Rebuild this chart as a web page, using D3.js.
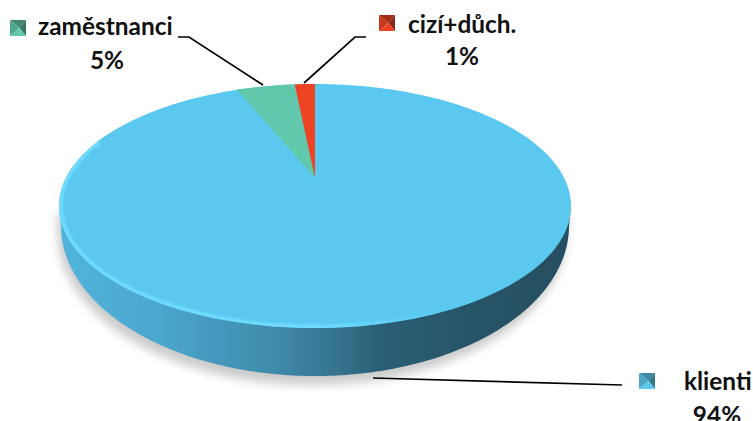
<!DOCTYPE html>
<html>
<head>
<meta charset="utf-8">
<script src="https://cdn.jsdelivr.net/npm/d3@7"></script>
<style>
html, body { margin: 0; padding: 0; background: #fff; overflow: hidden; }
text { font-family: Lato, "Open Sans", sans-serif; font-weight: 700; font-size: 24.4px; fill: #111; }
</style>
</head>
<body>
<script>
// slice order runs clockwise from 12 o'clock, sizes
var categories = ["klienti", "zaměstnanci", "cizí+důch."];
var shares = [93.8, 4.6, 1.6];
var pctLabels = ["94%", "5%", "1%"];
var colors = ["#5ac8ef", "#62c8ac", "#ee4322"];

var w = 753;
var h = 421;

// pie is tilted in perspective, so the centre sits above the middle of the ellipse
var cx = 315, cy = 178;
var A = 249.2, B = 115.6, k = -0.2295;

function project(ang, r) {
  var x = Math.sin(ang) * r;
  var v = -Math.cos(ang) * r;
  var d = 1 + k * v;
  return [cx + A * x / d, cy + B * v / d];
}

var line = d3.line();

function slicePath(d) {
  var n = Math.max(4, Math.ceil((d.endAngle - d.startAngle) * 60));
  var pts = [[cx, cy]];
  d3.range(n + 1).forEach(function(i) {
    pts.push(project(d.startAngle + (d.endAngle - d.startAngle) * i / n, 1));
  });
  return line(pts) + "Z";
}

var svg = d3.select("body")
  .append("svg")
  .attr("width", w)
  .attr("height", h)
  .style("display", "block");

var defs = svg.append("defs");

defs.append("filter").attr("id", "shadow")
  .attr("x", "-10%").attr("y", "-10%").attr("width", "120%").attr("height", "120%")
  .append("feGaussianBlur").attr("stdDeviation", 5);
defs.append("filter").attr("id", "soft")
  .attr("x", "-5%").attr("y", "-5%").attr("width", "110%").attr("height", "110%")
  .append("feGaussianBlur").attr("stdDeviation", 1.3);

var sideGrad = defs.append("linearGradient").attr("id", "side")
  .attr("gradientUnits", "userSpaceOnUse")
  .attr("x1", 59).attr("x2", 571).attr("y1", 0).attr("y2", 0);
[[0, "#52b4dc"], [0.2, "#4ba6cc"], [0.42, "#3f8bab"], [0.55, "#34728c"], [0.63, "#2b5f75"], [0.8, "#285468"], [1, "#254f60"]]
  .forEach(function(s) {
    sideGrad.append("stop").attr("offset", s[0]).attr("stop-color", s[1]);
  });

var rimGrad = defs.append("linearGradient").attr("id", "rim")
  .attr("gradientUnits", "userSpaceOnUse")
  .attr("x1", 59).attr("x2", 571).attr("y1", 0).attr("y2", 0);
[[0, "#70dcff"], [0.5, "#70dcff"], [0.75, "#5ac8ef"], [1, "#5ac8ef"]]
  .forEach(function(s) {
    rimGrad.append("stop").attr("offset", s[0]).attr("stop-color", s[1]);
  });

var full = d3.range(0, 181).map(function(i) { return project(i / 180 * 2 * Math.PI, 1); });

// the bottom outline of the wall is rounder than the top disc
var bottomEdge = [[59, 206]].concat(d3.range(0, 181).map(function(i) {
  var t = i / 180 * Math.PI;
  return [315 - 254 * Math.cos(t), 226 + 150 * Math.sin(t)];
})).concat([[571, 206]]);

// shadow under the disc
svg.append("path")
  .attr("d", line(bottomEdge) + "Z")
  .attr("transform", "translate(-3,9)")
  .attr("fill", "#000")
  .attr("opacity", 0.2)
  .attr("filter", "url(#shadow)");

// side wall
svg.append("path").attr("d", line(bottomEdge) + "Z").attr("fill", "url(#side)");

// flat top, then the bright bevel along its lower left edge
svg.append("path").attr("d", line(full) + "Z").attr("fill", colors[0]);

defs.append("clipPath").attr("id", "disc")
  .append("path").attr("d", line(full) + "Z");

var rimArc = d3.range(72, 146).map(function(i) {
  return project(i / 180 * 2 * Math.PI, 0.995);
});
svg.append("g").attr("clip-path", "url(#disc)")
  .append("path")
  .attr("d", line(rimArc))
  .attr("fill", "none")
  .attr("stroke", "url(#rim)")
  .attr("stroke-width", 5)
  .attr("filter", "url(#soft)");

var arcs = d3.pie().sort(null).value(function(d) { return d; })(shares);

svg.append("g").selectAll("path")
  .data(arcs.filter(function(d) { return d.index > 0; }))
  .enter()
  .append("path")
  .attr("d", slicePath)
  .attr("fill", function(d) { return colors[d.index]; });

// leader lines
var leaders = [
  [[373, 378], [622, 385]],
  [[178, 37], [189, 37], [263, 85]],
  [[366, 37], [355, 37], [304, 83]]
];
svg.selectAll("path.leader")
  .data(leaders)
  .enter()
  .append("path")
  .attr("class", "leader")
  .attr("d", line)
  .attr("fill", "none")
  .attr("stroke", "#000")
  .attr("stroke-width", 1.7);

// labels
var labelPos = [
  {key: [639, 373], name: [684, 390], pct: [717, 424]},
  {key: [10, 20], name: [38, 35], pct: [107, 69]},
  {key: [379, 15], name: [408, 33], pct: [462, 65]}
];

categories.forEach(function(c, i) {
  var p = labelPos[i];
  svg.append("text").attr("x", p.name[0]).attr("y", p.name[1]).text(c);
  svg.append("text").attr("x", p.pct[0]).attr("y", p.pct[1])
    .attr("text-anchor", "middle").text(pctLabels[i]);

  // little bevelled legend key
  var s = 16, x = p.key[0], y = p.key[1], m = [x + s * 0.6, y + s * 0.5];
  var base = d3.color(colors[i]);
  var tris = [
    [[x, y], [x + s, y], m, base.darker(1.1)],
    [[x, y], [x, y + s], m, base.darker(0.5)],
    [[x + s, y], [x + s, y + s], m, base.darker(1.5)],
    [[x, y + s], [x + s, y + s], m, base]
  ];
  tris.forEach(function(t) {
    svg.append("path").attr("d", line([t[0], t[1], t[2]]) + "Z").attr("fill", t[3]);
  });
});
</script>
</body>
</html>
